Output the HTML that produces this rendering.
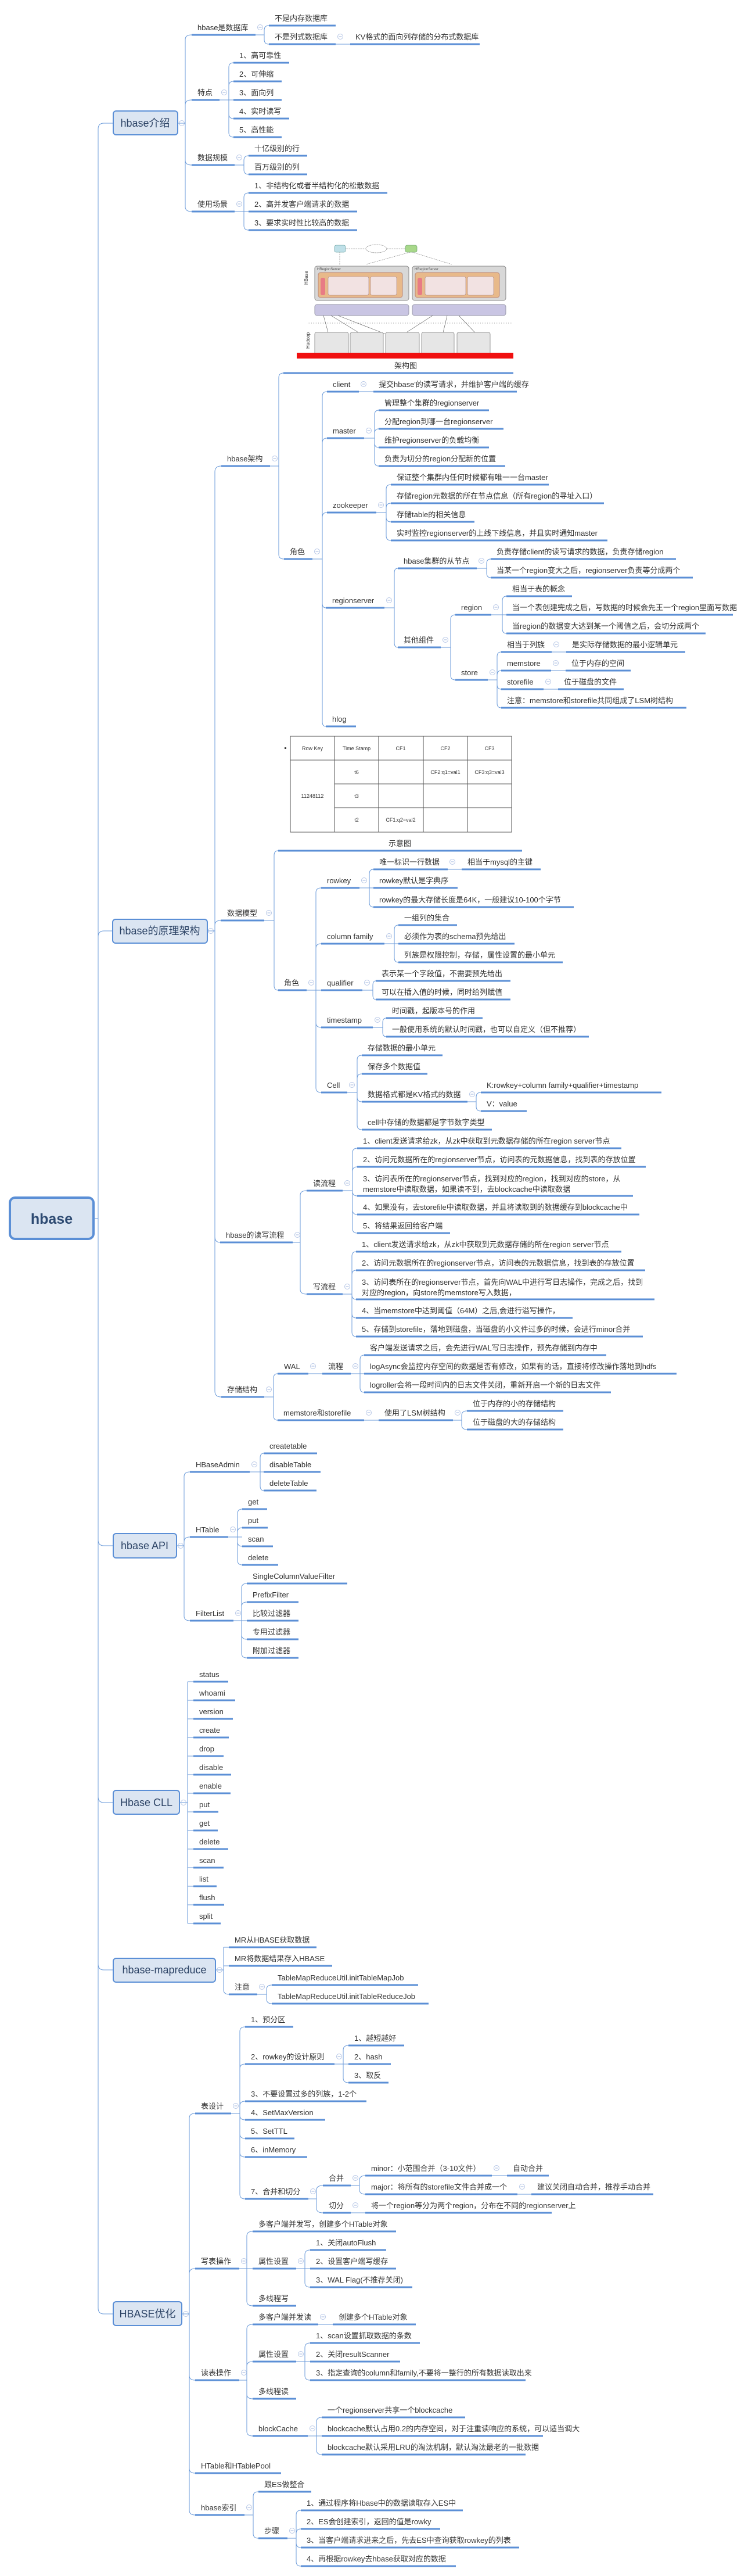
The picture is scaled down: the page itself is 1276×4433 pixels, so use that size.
<!DOCTYPE html>
<html><head><meta charset="utf-8"><style>
html,body{margin:0;padding:0;background:#fff;width:1276px;height:4433px;overflow:hidden}
svg{display:block}
text{font-family:"Liberation Sans","Noto Sans CJK SC",sans-serif;font-size:13px;fill:#333}
.b{stroke:#5b8fd6;stroke-width:3;fill:none}
.l{stroke:#6a9ad9;stroke-width:1;fill:none}
.bx{fill:#dbe5f2;stroke:#5b8fd6;stroke-width:2}
.bt{font-size:18px;fill:#2d4466;text-anchor:middle}
.s{font-size:6px;fill:#555}
</style></head><body>
<svg width="1276" height="4433" viewBox="0 0 1276 4433" xmlns="http://www.w3.org/2000/svg">
<defs><g id="m"><circle r="4.5" fill="#fff" stroke="#b7c7e6" stroke-width="1"/><path d="M-2.5 0H2.5" stroke="#9fb4de" stroke-width="1"/></g></defs>

<!-- root -->
<rect x="17" y="2061" width="144" height="71" rx="9" fill="#dbe5f2" stroke="#5b8fd6" stroke-width="4"/>
<text x="89" y="2106" style="font-size:25px;font-weight:bold;fill:#2d4a72;text-anchor:middle">hbase</text>
<path class="l" d="M161 2097H169M169 2097V222Q169 212 179 212H195M169 2097V1612Q169 1602 179 1602H194M169 2097V2650Q169 2660 179 2660H195M169 2097V3092Q169 3102 179 3102H195M169 2097V3380Q169 3390 179 3390H195M169 2097V3972Q169 3982 179 3982H195"/>

<!-- level1 boxes -->
<rect class="bx" x="195" y="191" width="111" height="41" rx="5"/><text class="bt" x="250" y="218">hbase介绍</text><use href="#m" x="313" y="212"/>
<rect class="bx" x="194" y="1582" width="163" height="41" rx="5"/><text class="bt" x="275" y="1608">hbase的原理架构</text><use href="#m" x="363" y="1602"/>
<rect class="bx" x="195" y="2639" width="109" height="42" rx="5"/><text class="bt" x="249" y="2666">hbase API</text><use href="#m" x="311" y="2660"/>
<rect class="bx" x="195" y="3081" width="114" height="41" rx="5"/><text class="bt" x="252" y="3108">Hbase CLL</text><use href="#m" x="316" y="3102"/>
<rect class="bx" x="195" y="3370" width="176" height="41" rx="5"/><text class="bt" x="283" y="3396">hbase-mapreduce</text><use href="#m" x="378" y="3390"/>
<rect class="bx" x="195" y="3961" width="118" height="41" rx="5"/><text class="bt" x="254" y="3988">HBASE优化</text><use href="#m" x="320" y="3982"/>

<!-- ===== Section 1 ===== -->
<path class="l" d="M306 212H319M319 212V68Q319 60 330 60M319 212V180Q319 172 330 172M319 212V276Q319 284 330 284M319 212V356Q319 364 330 364
M440 60H455M455 60V52Q455 44 463 44M455 60V68Q455 76 463 76M578 76H603
M378 172H402M394 172V116Q394 108 402 108M394 172V148Q394 140 402 140M394 172V196Q394 204 402 204M394 172V228Q394 236 402 236
M404 284H420M420 284V276Q420 268 428 268M420 284V292Q420 300 428 300
M404 364H428M420 364V340Q420 332 428 332M420 364V388Q420 396 428 396"/>
<path class="b" d="M330 60H440M463 44H578M463 76H578M603 76H826M330 172H378M402 108H498M402 140H485M402 172H485M402 204H498M402 236H485M330 284H404M428 268H529M428 300H529M330 364H404M428 332H667M428 364H615M428 396H615"/>
<use href="#m" x="448" y="47"/><use href="#m" x="586" y="63"/><use href="#m" x="386" y="159"/><use href="#m" x="412" y="271"/><use href="#m" x="412" y="351"/>
<text x="340" y="52">hbase是数据库</text><text x="473" y="36">不是内存数据库</text><text x="473" y="68">不是列式数据库</text><text x="612" y="68">KV格式的面向列存储的分布式数据库</text>
<text x="340" y="164">特点</text><text x="412" y="100">1、高可靠性</text><text x="412" y="132">2、可伸缩</text><text x="412" y="164">3、面向列</text><text x="412" y="196">4、实时读写</text><text x="412" y="228">5、高性能</text>
<text x="340" y="276">数据规模</text><text x="438" y="260">十亿级别的行</text><text x="438" y="292">百万级别的列</text>
<text x="340" y="356">使用场景</text><text x="438" y="324">1、非结构化或者半结构化的松散数据</text><text x="438" y="356">2、高并发客户端请求的数据</text><text x="438" y="388">3、要求实时性比较高的数据</text>

<!-- ===== Architecture image ===== -->
<g>
<rect x="576" y="422" width="19" height="12" rx="3" fill="#bfe0e8" stroke="#7aa" stroke-width="0.8"/>
<ellipse cx="648" cy="428" rx="18" ry="7" fill="#fff" stroke="#888" stroke-width="0.8" stroke-dasharray="2 1"/>
<rect x="698" y="422" width="20" height="12" rx="3" fill="#a8d88a" stroke="#7a7" stroke-width="0.8"/>
<path d="M595 428H630M666 428H698M585 434V456M706 434L630 455M710 434L778 455" stroke="#777" stroke-width="0.6" fill="none" stroke-dasharray="2 1"/>
<rect x="542" y="458" width="162" height="59" rx="4" fill="#d8d8d8" stroke="#888"/>
<rect x="710" y="458" width="161" height="59" rx="4" fill="#d8d8d8" stroke="#888"/>
<rect x="548" y="469" width="145" height="43" rx="4" fill="#e8b98a" stroke="#b87"/>
<rect x="715" y="469" width="145" height="43" rx="4" fill="#e8b98a" stroke="#b87"/>
<rect x="552" y="478" width="8" height="30" rx="3" fill="#e87b85"/><rect x="719" y="478" width="8" height="30" rx="3" fill="#e87b85"/>
<rect x="565" y="476" width="70" height="32" rx="3" fill="#f2e2e2" stroke="#a88" stroke-width="0.6"/><rect x="638" y="476" width="45" height="32" rx="3" fill="#f2e2e2" stroke="#a88" stroke-width="0.6"/>
<rect x="732" y="476" width="70" height="32" rx="3" fill="#f2e2e2" stroke="#a88" stroke-width="0.6"/><rect x="805" y="476" width="45" height="32" rx="3" fill="#f2e2e2" stroke="#a88" stroke-width="0.6"/>
<rect x="542" y="524" width="162" height="19" rx="4" fill="#c9c5e3" stroke="#99a"/>
<rect x="710" y="524" width="161" height="19" rx="4" fill="#c9c5e3" stroke="#99a"/>
<path d="M530 556H882" stroke="#999" stroke-width="1" stroke-dasharray="1 2"/>
<path d="M557 543L565 572M570 543L630 580M582 543L690 585M745 543L700 572M770 543L760 585M790 543L830 585" stroke="#555" stroke-width="0.6" fill="none"/>
<rect x="542" y="572" width="58" height="40" rx="3" fill="#e6e6e6" stroke="#999"/><rect x="603" y="572" width="57" height="40" rx="3" fill="#e6e6e6" stroke="#999"/><rect x="664" y="572" width="58" height="40" rx="3" fill="#e6e6e6" stroke="#999"/><rect x="726" y="572" width="56" height="40" rx="3" fill="#e6e6e6" stroke="#999"/><rect x="787" y="572" width="57" height="40" rx="3" fill="#e6e6e6" stroke="#999"/>
<rect x="511" y="607" width="373" height="10" fill="#f01010"/>
<text class="s" x="546" y="465">HRegionServer</text><text class="s" x="714" y="465">HRegionServer</text>
<text x="530" y="490" transform="rotate(-90 530 490)" style="font-size:8px;fill:#333">HBase</text>
<text x="533" y="600" transform="rotate(-90 533 600)" style="font-size:8px;fill:#333">Hadoop</text>
</g>
<text x="679" y="634">架构图</text>

<!-- ===== Section 2 ===== -->
<path class="l" d="M357 1602H370M370 1602V812Q370 802 381 802M370 1602V1592Q370 1584 380 1584M370 1602V2128Q370 2138 379 2138M370 1602V2394Q370 2404 381 2404
M465 802H480M480 802V650Q480 642 488 642M480 802V954Q480 962 489 962
M538 962H555M555 962V682Q555 674 563 674M555 962V762Q555 754 563 754M555 962V890Q555 882 563 882M555 962V1038Q555 1046 561 1046M555 962V1242Q555 1250 561 1250
M618 674H643
M627 754H645M645 754V714Q645 706 652 706M645 754V746Q645 738 652 738M645 754V762Q645 770 652 770M645 754V794Q645 802 652 802
M648 882H665M665 882V842Q665 834 673 834M665 882V874Q665 866 673 866M665 882V890Q665 898 673 898M665 882V922Q665 930 673 930
M662 1046H679M679 1046V986Q679 978 685 978M679 1046V1106Q679 1114 685 1114
M821 978H838M838 978V970Q838 962 845 962M838 978V986Q838 994 845 994
M759 1114H776M776 1114V1066Q776 1058 784 1058M776 1114V1162Q776 1170 784 1170
M846 1058H872M865 1058V1034Q865 1026 872 1026M865 1058V1082Q865 1090 872 1090
M840 1170H856M856 1170V1130Q856 1122 863 1122M856 1170V1162Q856 1154 863 1154M856 1170V1178Q856 1186 863 1186M856 1170V1210Q856 1218 863 1218
M950 1122H975M949 1154H974M936 1186H961
M455 1584H472M472 1584V1472Q472 1464 479 1464M472 1584V1696Q472 1704 479 1704
M528 1704H544M544 1704V1536Q544 1528 553 1528M544 1704V1632Q544 1624 553 1624M544 1704H553M544 1704V1760Q544 1768 553 1768M544 1704V1872Q544 1880 553 1880
M619 1528H643M636 1528V1504Q636 1496 643 1496M636 1528V1553Q636 1561 643 1561M771 1496H795
M662 1624H686M679 1624V1600Q679 1592 686 1592M679 1624V1648Q679 1656 686 1656
M624 1704H642M642 1704V1696Q642 1688 647 1688M642 1704V1712Q642 1720 647 1720
M642 1768H659M659 1768V1760Q659 1752 665 1752M659 1768V1776Q659 1784 665 1784
M598 1880H615M615 1880V1824Q615 1816 623 1816M615 1880V1856Q615 1848 623 1848M615 1880V1888Q615 1896 623 1896M615 1880V1936Q615 1944 623 1944
M805 1896H820M820 1896V1888Q820 1880 828 1880M820 1896V1904Q820 1912 828 1912
M504 2138H517M517 2138V2057Q517 2049 528 2049M517 2138V2219Q517 2227 528 2227
M590 2049H607M607 2049V1984Q607 1976 615 1976M607 2049V2016Q607 2008 615 2008M607 2049V2050Q607 2058 615 2058M607 2049V2082Q607 2090 615 2090M607 2049V2114Q607 2122 615 2122
M590 2227H606M606 2227V2162Q606 2154 613 2154M606 2227V2194Q606 2186 613 2186M606 2227V2228Q606 2236 613 2236M606 2227V2260Q606 2268 613 2268M606 2227V2292Q606 2300 613 2300
M455 2404H471M471 2404V2372Q471 2364 478 2364M471 2404V2436Q471 2444 478 2444
M531 2364H555M604 2364H627M620 2364V2340Q620 2332 627 2332M620 2364V2388Q620 2396 627 2396
M627 2444H652M780 2444H795M795 2444V2436Q795 2428 804 2428M795 2444V2452Q795 2460 804 2460"/>
<path class="b" d="M381 802H465M488 642H884M489 962H538M563 674H618M643 674H890M563 754H627M652 706H842M652 738H867M652 770H842M652 802H870
M563 882H648M673 834H945M673 866H1040M673 898H817M673 930H1046M561 1046H662M561 1250H613
M685 978H821M845 962H1164M845 994H1193M685 1114H759M784 1058H846M872 1026H985M872 1058H1262M872 1090H1215
M784 1170H840M863 1122H950M975 1122H1180M863 1154H949M974 1154H1086M863 1186H936M961 1186H1074M863 1218H1182
M380 1584H455M479 1464H899M479 1704H528M553 1528H619M643 1496H771M795 1496H931M643 1528H788M643 1561H988
M553 1624H662M686 1592H787M686 1624H886M686 1656H969M553 1704H624M647 1688H879M647 1720H879
M553 1768H642M665 1752H831M665 1784H1014M553 1880H598M623 1816H762M623 1848H736M623 1896H805M623 1944H847M828 1880H1139M828 1912H907
M379 2138H504M528 2049H590M615 1976H1070M615 2008H1112M615 2058H1090M615 2090H1101M615 2122H775
M528 2227H590M613 2154H1070M613 2186H1111M613 2236H1127M613 2268H986M613 2300H1107
M381 2404H455M478 2364H531M555 2364H604M627 2332H1044M627 2364H1165M627 2396H1052M478 2444H627M652 2444H780M804 2428H970M804 2460H970"/>
<use href="#m" x="473" y="789"/><use href="#m" x="546" y="949"/><use href="#m" x="626" y="661"/><use href="#m" x="635" y="741"/><use href="#m" x="656" y="869"/><use href="#m" x="670" y="1033"/><use href="#m" x="829" y="965"/><use href="#m" x="767" y="1101"/><use href="#m" x="854" y="1045"/><use href="#m" x="848" y="1157"/><use href="#m" x="958" y="1109"/><use href="#m" x="957" y="1141"/><use href="#m" x="944" y="1173"/>
<use href="#m" x="463" y="1571"/><use href="#m" x="536" y="1691"/><use href="#m" x="627" y="1515"/><use href="#m" x="779" y="1483"/><use href="#m" x="670" y="1611"/><use href="#m" x="632" y="1691"/><use href="#m" x="650" y="1755"/><use href="#m" x="606" y="1867"/><use href="#m" x="813" y="1883"/>
<use href="#m" x="512" y="2125"/><use href="#m" x="598" y="2036"/><use href="#m" x="598" y="2214"/><use href="#m" x="463" y="2391"/><use href="#m" x="539" y="2351"/><use href="#m" x="612" y="2351"/><use href="#m" x="635" y="2431"/><use href="#m" x="788" y="2431"/>

<text x="391" y="794">hbase架构</text><text x="499" y="954">角色</text>
<text x="573" y="666">client</text><text x="652" y="666">提交hbase'的读写请求，并维护客户端的缓存</text>
<text x="573" y="746">master</text><text x="662" y="698">管理整个集群的regionserver</text><text x="662" y="730">分配region到哪一台regionserver</text><text x="662" y="762">维护regionserver的负载均衡</text><text x="662" y="794">负责为切分的region分配新的位置</text>
<text x="573" y="874">zookeeper</text><text x="683" y="826">保证整个集群内任何时候都有唯一一台master</text><text x="683" y="858">存储region元数据的所在节点信息（所有region的寻址入口）</text><text x="683" y="890">存储table的相关信息</text><text x="683" y="922">实时监控regionserver的上线下线信息，并且实时通知master</text>
<text x="572" y="1038">regionserver</text><text x="695" y="970">hbase集群的从节点</text><text x="855" y="954">负责存储client的读写请求的数据，负责存储region</text><text x="855" y="986">当某一个region变大之后，regionserver负责等分成两个</text>
<text x="695" y="1106">其他组件</text><text x="794" y="1050">region</text><text x="882" y="1018">相当于表的概念</text><text x="882" y="1050">当一个表创建完成之后，写数据的时候会先王一个region里面写数据</text><text x="882" y="1082">当region的数据变大达到某一个阈值之后，会切分成两个</text>
<text x="794" y="1162">store</text><text x="873" y="1114">相当于列族</text><text x="985" y="1114">是实际存储数据的最小逻辑单元</text><text x="873" y="1146">memstore</text><text x="984" y="1146">位于内存的空间</text><text x="873" y="1178">storefile</text><text x="971" y="1178">位于磁盘的文件</text><text x="873" y="1210">注意：memstore和storefile共同组成了LSM树结构</text>
<text x="572" y="1242">hlog</text>

<!-- table image -->
<g stroke="#555" stroke-width="1" fill="none">
<rect x="500" y="1267" width="381" height="165"/>
<path d="M500 1308H881M576 1349H881M576 1390H881M576 1267V1432M652 1267V1432M729 1267V1432M805 1267V1432"/>
</g>
<g style="font-size:9px" text-anchor="middle">
<text x="538" y="1291" style="font-size:9px">Row Key</text><text x="614" y="1291" style="font-size:9px">Time Stamp</text><text x="690" y="1291" style="font-size:9px">CF1</text><text x="767" y="1291" style="font-size:9px">CF2</text><text x="843" y="1291" style="font-size:9px">CF3</text>
<text x="538" y="1373" style="font-size:9px">11248112</text><text x="614" y="1332" style="font-size:9px">t6</text><text x="614" y="1373" style="font-size:9px">t3</text><text x="614" y="1414" style="font-size:9px">t2</text>
<text x="767" y="1332" style="font-size:9px">CF2:q1=val1</text><text x="843" y="1332" style="font-size:9px">CF3:q3=val3</text><text x="690" y="1414" style="font-size:9px">CF1:q2=val2</text>
</g>
<rect x="490" y="1286" width="3" height="3" fill="#333"/>
<text x="669" y="1456">示意图</text>

<text x="391" y="1576">数据模型</text><text x="489" y="1696">角色</text>
<text x="563" y="1520">rowkey</text><text x="653" y="1488">唯一标识一行数据</text><text x="805" y="1488">相当于mysql的主键</text><text x="653" y="1520">rowkey默认是字典序</text><text x="653" y="1553">rowkey的最大存储长度是64K，一般建议10-100个字节</text>
<text x="563" y="1616">column family</text><text x="696" y="1584">一组列的集合</text><text x="696" y="1616">必须作为表的schema预先给出</text><text x="696" y="1648">列族是权限控制，存储，属性设置的最小单元</text>
<text x="563" y="1696">qualifier</text><text x="657" y="1680">表示某一个字段值，不需要预先给出</text><text x="657" y="1712">可以在插入值的时候，同时给列赋值</text>
<text x="563" y="1760">timestamp</text><text x="675" y="1744">时间戳，起版本号的作用</text><text x="675" y="1776">一般使用系统的默认时间戳，也可以自定义（但不推荐）</text>
<text x="563" y="1872">Cell</text><text x="633" y="1808">存储数据的最小单元</text><text x="633" y="1840">保存多个数据值</text><text x="633" y="1888">数据格式都是KV格式的数据</text><text x="633" y="1936">cell中存储的数据都是字节数字类型</text><text x="838" y="1872">K:rowkey+column family+qualifier+timestamp</text><text x="838" y="1904">V：value</text>
<text x="389" y="2130">hbase的读写流程</text>
<text x="539" y="2041">读流程</text>
<text x="625" y="1968">1、client发送请求给zk，从zk中获取到元数据存储的所在region server节点</text>
<text x="625" y="2000">2、访问元数据所在的regionserver节点，访问表的元数据信息，找到表的存放位置</text>
<text x="625" y="2033">3、访问表所在的regionserver节点，找到对应的region，找到对应的store，从</text>
<text x="625" y="2051">memstore中读取数据，如果读不到，去blockcache中读取数据</text>
<text x="625" y="2082">4、如果没有，去storefile中读取数据，并且将读取到的数据缓存到blockcache中</text>
<text x="625" y="2114">5、将结果返回给客户端</text>
<text x="539" y="2219">写流程</text>
<text x="623" y="2146">1、client发送请求给zk，从zk中获取到元数据存储的所在region server节点</text>
<text x="623" y="2178">2、访问元数据所在的regionserver节点，访问表的元数据信息，找到表的存放位置</text>
<text x="623" y="2211">3、访问表所在的regionserver节点，首先向WAL中进行写日志操作，完成之后，找到</text>
<text x="623" y="2229">对应的region，向store的memstore写入数据，</text>
<text x="623" y="2260">4、当memstore中达到阈值（64M）之后,会进行溢写操作，</text>
<text x="623" y="2292">5、存储到storefile，落地到磁盘，当磁盘的小文件过多的时候，会进行minor合并</text>
<text x="391" y="2396">存储结构</text><text x="489" y="2356">WAL</text><text x="565" y="2356">流程</text>
<text x="637" y="2324">客户端发送请求之后，会先进行WAL写日志操作，预先存储到内存中</text>
<text x="637" y="2356">logAsync会监控内存空间的数据是否有修改，如果有的话，直接将修改操作落地到hdfs</text>
<text x="637" y="2388">logroller会将一段时间内的日志文件关闭，重新开启一个新的日志文件</text>
<text x="488" y="2436">memstore和storefile</text><text x="662" y="2436">使用了LSM树结构</text><text x="814" y="2420">位于内存的小的存储结构</text><text x="814" y="2452">位于磁盘的大的存储结构</text>

<!-- ===== API ===== -->
<path class="l" d="M304 2660H317M317 2660V2541Q317 2533 327 2533M317 2660V2653Q317 2645 327 2645M317 2660V2781Q317 2789 327 2789
M430 2533H454M448 2533V2509Q448 2501 454 2501M448 2533V2557Q448 2565 454 2565
M393 2645H417M409 2645V2605Q409 2597 417 2597M409 2645V2637Q409 2629 417 2629M409 2645V2653Q409 2661 417 2661M409 2645V2685Q409 2693 417 2693
M402 2789H425M416 2789V2733Q416 2725 425 2725M416 2789V2765Q416 2757 425 2757M416 2789V2813Q416 2821 425 2821M416 2789V2845Q416 2853 425 2853"/>
<path class="b" d="M327 2533H430M454 2501H546M454 2533H552M454 2565H545M327 2645H393M417 2597H460M417 2629H461M417 2661H470M417 2693H479M327 2789H402M425 2725H598M425 2757H514M425 2789H514M425 2821H514M425 2853H514"/>
<use href="#m" x="438" y="2520"/><use href="#m" x="401" y="2632"/><use href="#m" x="410" y="2776"/>
<text x="337" y="2525">HBaseAdmin</text><text x="464" y="2493">createtable</text><text x="464" y="2525">disableTable</text><text x="464" y="2557">deleteTable</text>
<text x="337" y="2637">HTable</text><text x="427" y="2589">get</text><text x="427" y="2621">put</text><text x="427" y="2653">scan</text><text x="427" y="2685">delete</text>
<text x="337" y="2781">FilterList</text><text x="435" y="2717">SingleColumnValueFilter</text><text x="435" y="2749">PrefixFilter</text><text x="435" y="2781">比较过滤器</text><text x="435" y="2813">专用过滤器</text><text x="435" y="2845">附加过滤器</text>

<!-- ===== CLL ===== -->
<path class="l" d="M309 3102H323M323 2894V3310M323 2894H333M323 2926H333M323 2958H333M323 2990H333M323 3022H333M323 3054H333M323 3086H333M323 3118H333M323 3150H333M323 3182H333M323 3214H333M323 3246H333M323 3278H333M323 3310H333"/>
<path class="b" d="M333 2894H393M333 2926H405M333 2958H401M333 2990H394M333 3022H385M333 3054H398M333 3086H397M333 3118H376M333 3150H375M333 3182H393M333 3214H385M333 3246H373M333 3278H386M333 3310H380"/>
<text x="343" y="2886">status</text><text x="343" y="2918">whoami</text><text x="343" y="2950">version</text><text x="343" y="2982">create</text><text x="343" y="3014">drop</text><text x="343" y="3046">disable</text><text x="343" y="3078">enable</text><text x="343" y="3110">put</text><text x="343" y="3142">get</text><text x="343" y="3174">delete</text><text x="343" y="3206">scan</text><text x="343" y="3238">list</text><text x="343" y="3270">flush</text><text x="343" y="3302">split</text>

<!-- ===== mapreduce ===== -->
<path class="l" d="M371 3390H385M385 3351V3424Q385 3432 394 3432M385 3351H394M385 3383H394M443 3432H459M459 3432V3424Q459 3416 468 3416M459 3432V3440Q459 3448 468 3448"/>
<path class="b" d="M394 3351H545M394 3383H572M394 3432H443M468 3416H720M468 3448H738"/>
<use href="#m" x="451" y="3419"/>
<text x="404" y="3343">MR从HBASE获取数据</text><text x="404" y="3375">MR将数据结果存入HBASE</text><text x="404" y="3424">注意</text><text x="478" y="3408">TableMapReduceUtil.initTableMapJob</text><text x="478" y="3440">TableMapReduceUtil.initTableReduceJob</text>

<!-- ===== 优化 ===== -->
<path class="l" d="M313 3982H326M326 3982V3645Q326 3637 336 3637M326 3982V3912Q326 3904 336 3904M326 3982V4088Q326 4096 336 4096M326 3982V4248Q326 4256 336 4256M326 3982V4320Q326 4328 336 4328
M398 3637H413M413 3637V3496Q413 3488 422 3488M413 3637V3560Q413 3552 422 3552M413 3637V3624Q413 3616 422 3616M413 3637V3640Q413 3648 422 3648M413 3637V3672Q413 3680 422 3680M413 3637V3704Q413 3712 422 3712M413 3637V3776Q413 3784 422 3784
M576 3552H600M591 3552V3528Q591 3520 600 3520M591 3552V3576Q591 3584 600 3584
M531 3784H545M545 3784V3769Q545 3761 556 3761M545 3784V3800Q545 3808 556 3808
M604 3761H619M619 3761V3752Q619 3744 629 3744M619 3761V3768Q619 3776 629 3776M847 3744H873M891 3776H915M604 3808H629
M412 3904H435M425 3904V3848Q425 3840 435 3840M425 3904V3960Q425 3968 435 3968
M510 3904H534M525 3904V3880Q525 3872 534 3872M525 3904V3928Q525 3936 534 3936
M412 4096H425M425 4096V4008Q425 4000 435 4000M425 4096V4072Q425 4064 435 4064M425 4096V4120Q425 4128 435 4128M425 4096V4184Q425 4192 435 4192M548 4000H573
M510 4064H534M525 4064V4040Q525 4032 534 4032M525 4064V4088Q525 4096 534 4096
M530 4192H554M545 4192V4168Q545 4160 554 4160M545 4192V4216Q545 4224 554 4224
M421 4328H436M436 4328V4296Q436 4288 445 4288M436 4328V4360Q436 4368 445 4368
M495 4368H510M510 4368V4328Q510 4320 518 4320M510 4368V4360Q510 4352 518 4352M510 4368V4376Q510 4384 518 4384M510 4368V4408Q510 4416 518 4416"/>
<path class="b" d="M336 3637H398M422 3488H505M422 3552H576M600 3520H696M600 3552H673M600 3584H669M422 3616H631M422 3648H560M422 3680H507M422 3712H529M422 3784H531
M556 3761H604M629 3744H847M873 3744H945M629 3776H891M915 3776H1125M556 3808H604M629 3808H950
M336 3904H412M435 3840H682M435 3904H510M534 3872H665M534 3904H682M534 3936H710M435 3968H510
M336 4096H412M435 4000H548M573 4000H716M435 4064H510M534 4032H723M534 4064H689M534 4096H905M435 4128H510M435 4192H530M554 4160H801M554 4192H935M554 4224H905
M336 4256H484M336 4328H421M445 4288H536M445 4368H495M518 4320H797M518 4352H758M518 4384H894M518 4416H785"/>
<use href="#m" x="406" y="3624"/><use href="#m" x="584" y="3539"/><use href="#m" x="539" y="3771"/><use href="#m" x="612" y="3748"/><use href="#m" x="612" y="3795"/><use href="#m" x="855" y="3731"/><use href="#m" x="899" y="3763"/>
<use href="#m" x="420" y="3891"/><use href="#m" x="518" y="3891"/><use href="#m" x="420" y="4083"/><use href="#m" x="556" y="3987"/><use href="#m" x="518" y="4051"/><use href="#m" x="538" y="4179"/><use href="#m" x="429" y="4315"/><use href="#m" x="503" y="4355"/>
<text x="346" y="3629">表设计</text>
<text x="432" y="3480">1、预分区</text><text x="432" y="3544">2、rowkey的设计原则</text><text x="610" y="3512">1、越短越好</text><text x="610" y="3544">2、hash</text><text x="610" y="3576">3、取反</text>
<text x="432" y="3608">3、不要设置过多的列族，1-2个</text><text x="432" y="3640">4、SetMaxVersion</text><text x="432" y="3672">5、SetTTL</text><text x="432" y="3704">6、inMemory</text><text x="432" y="3776">7、合并和切分</text>
<text x="566" y="3753">合并</text><text x="566" y="3800">切分</text><text x="639" y="3736">minor：小范围合并（3-10文件）</text><text x="883" y="3736">自动合并</text><text x="639" y="3768">major：将所有的storefile文件合并成一个</text><text x="925" y="3768">建议关闭自动合并，推荐手动合并</text><text x="639" y="3800">将一个region等分为两个region，分布在不同的regionserver上</text>
<text x="346" y="3896">写表操作</text><text x="445" y="3832">多客户端并发写，创建多个HTable对象</text><text x="445" y="3896">属性设置</text><text x="544" y="3864">1、关闭autoFlush</text><text x="544" y="3896">2、设置客户端写缓存</text><text x="544" y="3928">3、WAL Flag(不推荐关闭)</text><text x="445" y="3960">多线程写</text>
<text x="346" y="4088">读表操作</text><text x="445" y="3992">多客户端并发读</text><text x="583" y="3992">创建多个HTable对象</text><text x="445" y="4056">属性设置</text><text x="544" y="4024">1、scan设置抓取数据的条数</text><text x="544" y="4056">2、关闭resultScanner</text><text x="544" y="4088">3、指定查询的column和family,不要将一整行的所有数据读取出来</text><text x="445" y="4120">多线程读</text>
<text x="445" y="4184">blockCache</text><text x="564" y="4152">一个regionserver共享一个blockcache</text><text x="564" y="4184">blockcache默认占用0.2的内存空间，对于注重读响应的系统，可以适当调大</text><text x="564" y="4216">blockcache默认采用LRU的淘汰机制，默认淘汰最老的一批数据</text>
<text x="346" y="4248">HTable和HTablePool</text>
<text x="346" y="4320">hbase索引</text><text x="455" y="4280">跟ES做整合</text><text x="455" y="4360">步骤</text>
<text x="528" y="4312">1、通过程序将Hbase中的数据读取存入ES中</text><text x="528" y="4344">2、ES会创建索引，返回的值是rowky</text><text x="528" y="4376">3、当客户端请求进来之后，先去ES中查询获取rowkey的列表</text><text x="528" y="4408">4、再根据rowkey去hbase获取对应的数据</text>
</svg>
</body></html>
